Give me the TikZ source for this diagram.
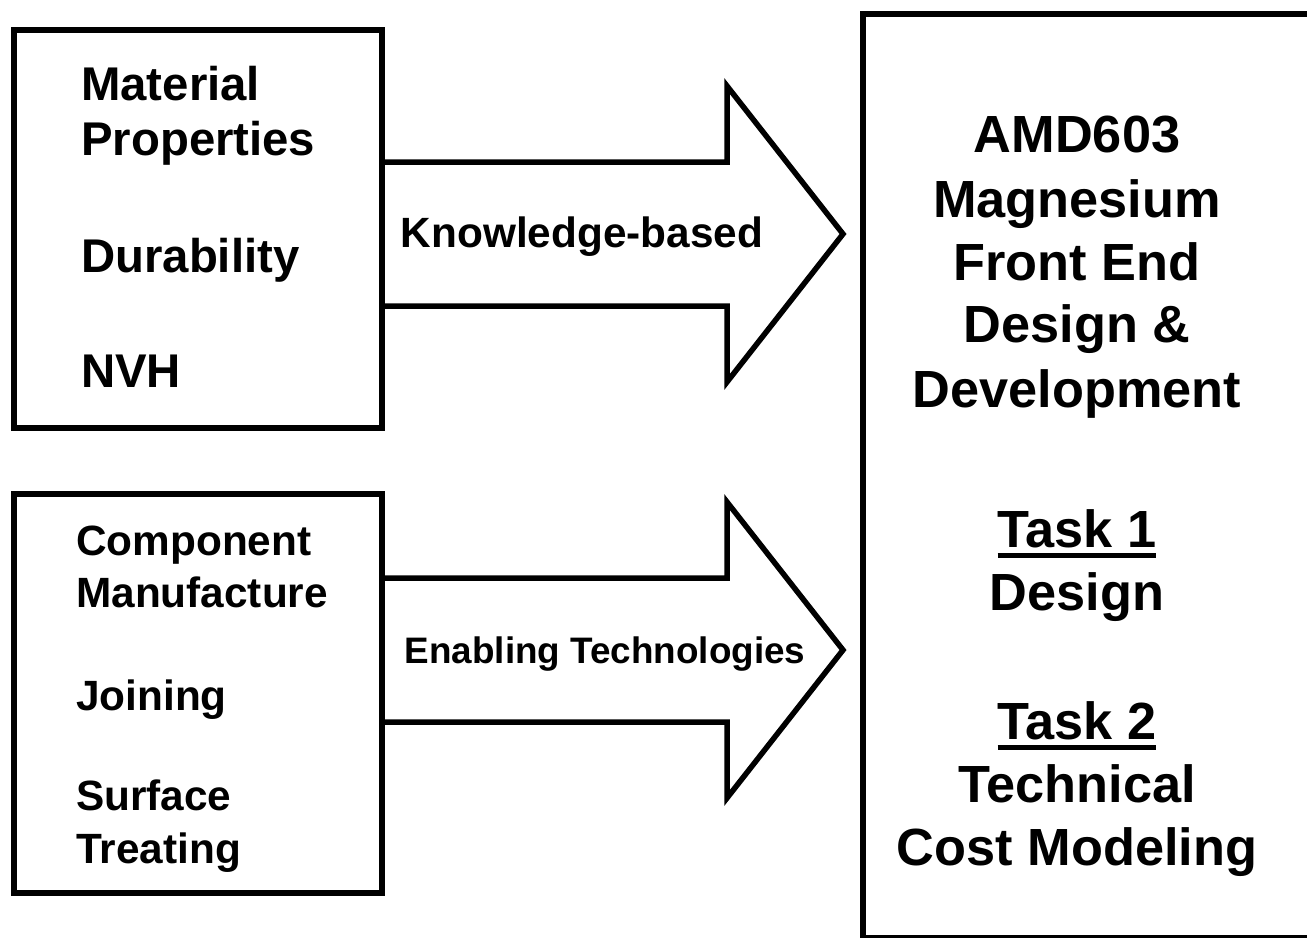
\documentclass[tikz,border=0pt]{standalone}
\usepackage{fontspec}
\setmainfont{Liberation Sans}
\usetikzlibrary{calc}

% underlined task heading
\newcommand{\taskul}[1]{\setbox0=\hbox{#1}\rlap{\rule[-11bp]{\wd0}{5bp}}\box0}

\begin{document}
\begin{tikzpicture}
      [x=1bp,y=-1bp
      ,box/.style={draw,line width=5.5bp,inner sep=0pt,anchor=north west}
      ,fat/.style={draw,line width=5.5bp}
      ,txt/.style={inner sep=0pt,font=\bfseries\fontsize{#1}{#1}\selectfont}
      ]
        \useasboundingbox (0,0) rectangle (1307,937);
        \clip (0,0) rectangle (1307,937);
        % the three boxes
        \node[box,minimum width=368bp,minimum height=398bp] (props) at (11,27) {};
        \node[box,minimum width=368bp,minimum height=399bp] (proc) at (11,491) {};
        \node[box,minimum width=452bp,minimum height=924bp] (design) at (860,11) {};
        % block arrows
        \coordinate (tipkb) at (843,234);
        \coordinate (tipet) at (843,650);
        \foreach \src/\tip in {props/tipkb,proc/tipet}{
          \draw[fat] ($(\src.east |- \tip)+(0,-72)$) -- ($(\tip)+(-116,-72)$)
            -- ($(\tip)+(-116,-148)$) -- (\tip) -- ($(\tip)+(-116,148)$)
            -- ($(\tip)+(-116,72)$) -- ($(\src.east |- \tip)+(0,72)$);
        }
        \node[txt=42.5,anchor=base] (kb) at (582,247) {Knowledge-based};
        \node[txt=37,anchor=base] (et) at (605,663) {Enabling Technologies};
        % box texts
        \foreach \y/\t [count=\i] in {100/Material,155/Properties,272/Durability,387/NVH}
          \node[txt=47.5,anchor=base west] (prop\i) at (81,\y) {\t};
        \foreach \y/\t [count=\i] in {555/Component,607/Manufacture,710/Joining,810/Surface,863/Treating}
          \node[txt=42.5,anchor=base west] (manuf\i) at (76,\y) {\t};
        \foreach \y/\t [count=\i] in {152/AMD603,217/Magnesium,280/Front End,342/Design \&,407/Development,
                                       547/\taskul{Task 1},610/Design,739/\taskul{Task 2},802/Technical,865/Cost Modeling}
          \node[txt=52.5,anchor=base] (dsg\i) at (1077,\y) {\t};
\end{tikzpicture}
\end{document}
